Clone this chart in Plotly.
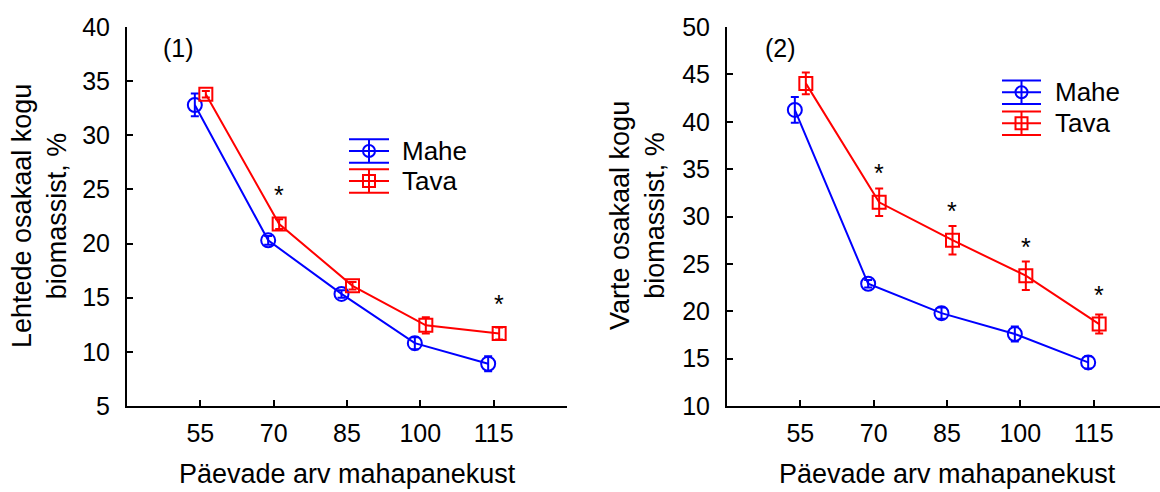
import plotly.graph_objects as go

# Days since planting (categories) and measured shares of total biomass, %
days = ["55", "70", "85", "100", "115"]

leaf_mahe = [32.8, 20.3, 15.35, 10.8, 8.9]
leaf_mahe_err = [1.05, 0.4, 0.35, 0.55, 0.7]
leaf_tava = [33.8, 21.8, 16.1, 12.45, 11.7]
leaf_tava_err = [0.3, 0.45, 0.35, 0.75, 0.55]
leaf_sig = [False, True, False, False, True]

stem_mahe = [41.25, 22.9, 19.8, 17.6, 14.6]
stem_mahe_err = [1.35, 0.4, 0.6, 0.8, 0.65]
stem_tava = [44.05, 31.5, 27.5, 23.75, 18.65]
stem_tava_err = [1.15, 1.45, 1.5, 1.5, 1.0]
stem_sig = [False, True, True, True, True]

y_ticks_left = [5, 10, 15, 20, 25, 30, 35, 40]
y_ticks_right = [10, 15, 20, 25, 30, 35, 40, 45, 50]

W, H = 1160, 492
FONT = "Liberation Sans, Arial, sans-serif"
FS_TICK = 25
FS_TITLE = 27
FS_LEG = 26
BLUE = "#0000ff"
RED = "#ff0000"
OFF = 0.075  # horizontal dodge of the two series around each category

pos = list(range(1, len(days) + 1))


def px(xp):
    return xp / W


def py(yp):
    return 1 - yp / H


fig = go.Figure()


def add_panel(xa, ya, mahe, mahe_err, tava, tava_err, sig):
    fig.add_trace(go.Scatter(
        x=[p - OFF for p in pos], y=mahe, xaxis=xa, yaxis=ya,
        mode="lines+markers", name="Mahe", showlegend=False,
        line=dict(color=BLUE, width=2),
        marker=dict(symbol="circle-open", size=14, color=BLUE, line=dict(width=2)),
        error_y=dict(type="data", array=mahe_err, color=BLUE, thickness=2, width=4),
    ))
    fig.add_trace(go.Scatter(
        x=[p + OFF for p in pos], y=tava, xaxis=xa, yaxis=ya,
        mode="lines+markers", name="Tava", showlegend=False,
        line=dict(color=RED, width=2),
        marker=dict(symbol="square-open", size=13, color=RED, line=dict(width=2)),
        error_y=dict(type="data", array=tava_err, color=RED, thickness=2, width=4),
    ))
    # significance asterisks above the Tava markers
    for p, v, s in zip(pos, tava, sig):
        if s:
            fig.add_annotation(x=p + OFF, y=v, xref=xa, yref=ya, text="*",
                               showarrow=False, yshift=29,
                               font=dict(family=FONT, size=FS_TICK, color="black"))


add_panel("x", "y", leaf_mahe, leaf_mahe_err, leaf_tava, leaf_tava_err, leaf_sig)
add_panel("x2", "y2", stem_mahe, stem_mahe_err, stem_tava, stem_tava_err, stem_sig)

axis_common = dict(
    showline=True, linecolor="black", linewidth=2, ticks="inside", ticklen=6,
    tickwidth=1.5, tickcolor="black", showgrid=False, zeroline=False,
    automargin=False,
    tickfont=dict(family=FONT, size=FS_TICK, color="black"),
)

plot_top, plot_bottom = 27, 406
left_l, left_r = 127, 567
right_l = 727
unit_px = (left_r - left_l) / 6

fig.update_layout(
    width=W, height=H,
    margin=dict(l=0, r=0, t=0, b=0, autoexpand=False),
    paper_bgcolor="white", plot_bgcolor="white",
    showlegend=False,
    xaxis=dict(axis_common, domain=[px(left_l), px(left_r)], range=[0, 6],
               tickvals=[0] + pos + [6], ticktext=[""] + days + [""],
               anchor="y", ticklabelstandoff=4),
    yaxis=dict(axis_common, domain=[py(plot_bottom), py(plot_top)], range=[5, 40],
               tickvals=y_ticks_left, anchor="x", ticklabelstandoff=10),
    xaxis2=dict(axis_common, domain=[px(right_l), 1],
                range=[0, (W - right_l) / unit_px],
                tickvals=[0] + pos, ticktext=[""] + days,
                anchor="y2", ticklabelstandoff=4),
    yaxis2=dict(axis_common, domain=[py(plot_bottom), py(plot_top)], range=[10, 50],
                tickvals=y_ticks_right, anchor="x2", ticklabelstandoff=10),
)

title_font = dict(family=FONT, size=FS_TITLE, color="black")
leg_font = dict(family=FONT, size=FS_LEG, color="black")
lab_font = dict(family=FONT, size=FS_TICK, color="black")

# axis titles
for cx in [(left_l + left_r) / 2, right_l + 3 * unit_px]:
    fig.add_annotation(x=px(cx), y=py(474), xref="paper", yref="paper",
                       text="Päevade arv mahapanekust", showarrow=False,
                       xanchor="center", yanchor="middle", font=title_font)

fig.add_annotation(x=px(40), y=py(216), xref="paper", yref="paper",
                   text="Lehtede osakaal kogu<br>biomassist, %", textangle=-90,
                   showarrow=False, xanchor="center", yanchor="middle", font=title_font)
fig.add_annotation(x=px(638), y=py(216), xref="paper", yref="paper",
                   text="Varte osakaal kogu<br>biomassist, %", textangle=-90,
                   showarrow=False, xanchor="center", yanchor="middle", font=title_font)

# panel labels
fig.add_annotation(x=px(178), y=py(48), xref="paper", yref="paper", text="(1)",
                   showarrow=False, xanchor="center", yanchor="middle", font=lab_font)
fig.add_annotation(x=px(780), y=py(48), xref="paper", yref="paper", text="(2)",
                   showarrow=False, xanchor="center", yanchor="middle", font=lab_font)


# legend keys: an error-bar glyph with the series marker
def legend_key(x0, x1, y_mid, color, symbol, label, text_x):
    half = 11.7
    for yy in (y_mid - half, y_mid, y_mid + half):
        fig.add_shape(type="line", xref="paper", yref="paper",
                      x0=px(x0), x1=px(x1), y0=py(yy), y1=py(yy),
                      line=dict(color=color, width=2))
    xc = (x0 + x1) / 2
    fig.add_shape(type="line", xref="paper", yref="paper",
                  x0=px(xc), x1=px(xc), y0=py(y_mid - half), y1=py(y_mid + half),
                  line=dict(color=color, width=2))
    r = 6
    fig.add_shape(type="circle" if symbol == "circle" else "rect",
                  xref="paper", yref="paper",
                  x0=px(xc - r), x1=px(xc + r), y0=py(y_mid - r), y1=py(y_mid + r),
                  line=dict(color=color, width=2), fillcolor="rgba(0,0,0,0)")
    fig.add_annotation(x=px(text_x), y=py(y_mid), xref="paper", yref="paper",
                       text=label, showarrow=False, xanchor="left", yanchor="middle",
                       font=leg_font)


legend_key(349, 389, 151, BLUE, "circle", "Mahe", 400)
legend_key(349, 389, 181, RED, "square", "Tava", 400)
legend_key(1002, 1041, 92.3, BLUE, "circle", "Mahe", 1053)
legend_key(1002, 1041, 123.3, RED, "square", "Tava", 1053)

fig.write_html("out.html")
